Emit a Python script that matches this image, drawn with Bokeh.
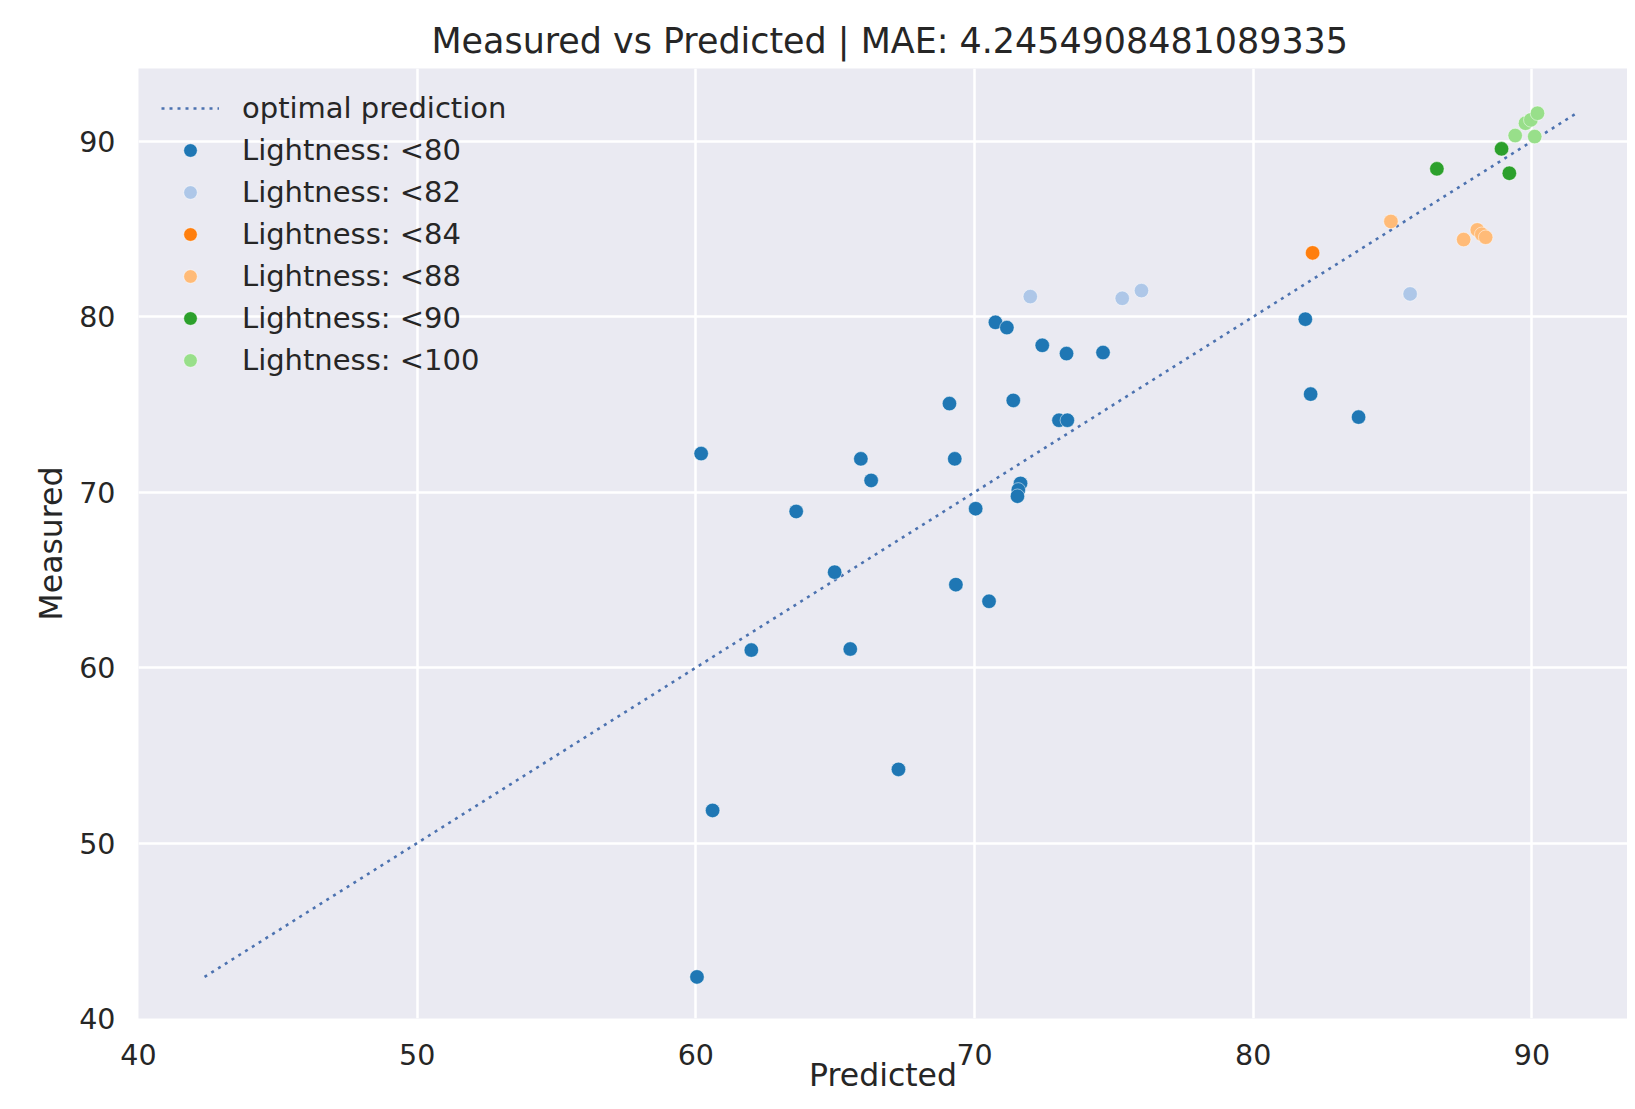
from bokeh.plotting import figure
from bokeh.models import Range1d, FixedTicker, Legend, LegendItem
from bokeh.embed import file_html
from bokeh.resources import INLINE

title_text = "Measured vs Predicted | MAE: 4.2454908481089335"
x_label = "Predicted"
y_label = "Measured"
ticks = [40, 50, 60, 70, 80, 90]

categories = ["Lightness: <80", "Lightness: <82", "Lightness: <84",
              "Lightness: <88", "Lightness: <90", "Lightness: <100"]
colors = ["#1f77b4", "#aec7e8", "#ff7f0e", "#ffbb78", "#2ca02c", "#98df8a"]

pred_80 = [60.19, 65.92, 66.29, 63.6, 64.98, 61.99, 65.54, 67.27, 60.6, 60.04,
           69.1, 69.29, 70.04, 69.33, 70.52, 70.75, 71.16, 71.39, 72.43, 73.3,
           74.61, 73.03, 73.33, 71.65, 71.57, 71.54, 81.87, 82.06, 83.78]
meas_80 = [72.2, 71.9, 70.67, 68.9, 65.44, 61.0, 61.06, 54.2, 51.86, 42.37,
           75.05, 71.9, 69.06, 64.73, 63.78, 79.68, 79.38, 75.23, 78.37, 77.9,
           77.96, 74.1, 74.1, 70.5, 70.13, 69.77, 79.86, 75.59, 74.28]
pred_82 = [72.0, 75.3, 75.99, 85.63]
meas_82 = [81.15, 81.05, 81.49, 81.3]
pred_84 = [82.13]
meas_84 = [83.64]
pred_88 = [84.94, 87.55, 88.04, 88.2, 88.34]
meas_88 = [85.43, 84.4, 84.95, 84.7, 84.53]
pred_90 = [86.59, 88.91, 89.19]
meas_90 = [88.43, 89.57, 88.18]
pred_100 = [89.4, 90.1, 89.77, 89.96, 90.2]
meas_100 = [90.33, 90.27, 91.03, 91.22, 91.6]

optimal_line = [42.37, 91.6]

series = [(pred_80, meas_80), (pred_82, meas_82), (pred_84, meas_84),
          (pred_88, meas_88), (pred_90, meas_90), (pred_100, meas_100)]

FONT = "DejaVu Sans"
TXT = "#262626"

p = figure(width=1627, height=1101, output_backend="svg", toolbar_location=None,
           x_range=Range1d(40, 93.43), y_range=Range1d(40, 94.15),
           min_border_left=138, min_border_top=68, min_border_right=0,
           min_border_bottom=83,
           background_fill_color="#eaeaf2", border_fill_color="white",
           outline_line_color=None)

p.title.text = title_text
p.title.text_font = FONT
p.title.text_font_size = "34.9px"
p.title.text_font_style = "normal"
p.title.text_color = TXT
p.title.align = "left"
p.title.offset = 293
p.title.standoff = 15

for ax in (p.xaxis[0], p.yaxis[0]):
    ax.ticker = FixedTicker(ticks=ticks)
    ax.axis_line_color = None
    ax.major_tick_line_color = None
    ax.minor_tick_line_color = None
    ax.major_tick_out = 0
    ax.major_tick_in = 0
    ax.major_label_text_font = FONT
    ax.major_label_text_font_size = "28.5px"
    ax.major_label_text_color = TXT
    ax.axis_label_text_font = FONT
    ax.axis_label_text_font_size = "31.5px"
    ax.axis_label_text_font_style = "normal"
    ax.axis_label_text_color = TXT

p.xaxis[0].axis_label = x_label
p.xaxis[0].major_label_standoff = 25
p.xaxis[0].axis_label_standoff = -11
p.yaxis[0].axis_label = y_label
p.yaxis[0].major_label_standoff = 23
p.yaxis[0].axis_label_standoff = 7

for g in (p.xgrid[0], p.ygrid[0]):
    g.ticker = FixedTicker(ticks=ticks)
    g.grid_line_color = "white"
    g.grid_line_width = 2.5

line_r = p.line(optimal_line, optimal_line, line_color="#4c72b0",
                line_width=2.6, line_dash="3 5")

items = [LegendItem(label="optimal prediction", renderers=[line_r])]
for cat, col, (xs, ys) in zip(categories, colors, series):
    r = p.scatter(xs, ys, size=14.5, fill_color=col, line_color="white",
                  line_width=0.5)
    items.append(LegendItem(label=cat, renderers=[r]))

legend = Legend(items=items, location="top_left", margin=0, padding=23,
                spacing=8, glyph_width=58, glyph_height=34, label_height=34,
                label_standoff=23, label_text_font=FONT,
                label_text_font_size="29px", label_text_color=TXT,
                background_fill_alpha=0, border_line_alpha=0)
p.add_layout(legend)

open("out.html", "w").write(file_html(p, INLINE))
